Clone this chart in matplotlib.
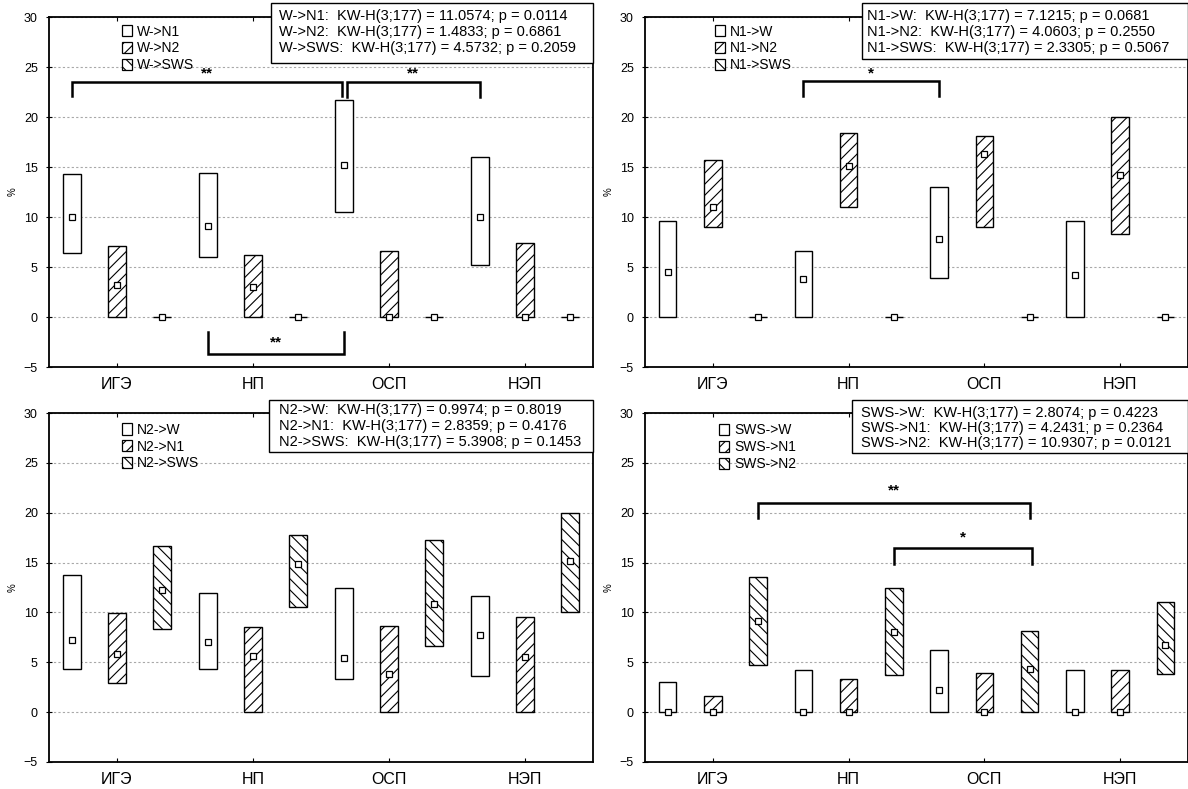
import matplotlib
matplotlib.use("Agg")
import matplotlib.pyplot as plt
from matplotlib.patches import Rectangle, Patch

plt.rcParams['font.family'] = ['Liberation Sans', 'DejaVu Sans']
plt.rcParams['hatch.linewidth'] = 0.8

categories = ['ИГЭ', 'НП', 'ОСП', 'НЭП']

# Panel 1: W->
w_names = ['W->N1', 'W->N2', 'W->SWS']
w_lo = [[6.4, 6.0, 10.5, 5.2], [0, 0, 0, 0], [0, 0, 0, 0]]
w_hi = [[14.3, 14.4, 21.7, 16.0], [7.1, 6.2, 6.6, 7.4], [0, 0, 0, 0]]
w_med = [[10.0, 9.1, 15.2, 10.0], [3.2, 3.0, 0, 0], [0, 0, 0, 0]]
w_stats = ['W->N1:  KW-H(3;177) = 11.0574; p = 0.0114',
           'W->N2:  KW-H(3;177) = 1.4833; p = 0.6861',
           'W->SWS:  KW-H(3;177) = 4.5732; p = 0.2059']

# Panel 2: N1->
n1_names = ['N1->W', 'N1->N2', 'N1->SWS']
n1_lo = [[0, 0, 3.9, 0], [9.0, 11.0, 9.0, 8.3], [0, 0, 0, 0]]
n1_hi = [[9.6, 6.6, 13.0, 9.6], [15.7, 18.4, 18.1, 20.0], [0, 0, 0, 0]]
n1_med = [[4.5, 3.8, 7.8, 4.2], [11.0, 15.1, 16.3, 14.2], [0, 0, 0, 0]]
n1_stats = ['N1->W:  KW-H(3;177) = 7.1215; p = 0.0681',
            'N1->N2:  KW-H(3;177) = 4.0603; p = 0.2550',
            'N1->SWS:  KW-H(3;177) = 2.3305; p = 0.5067']

# Panel 3: N2->
n2_names = ['N2->W', 'N2->N1', 'N2->SWS']
n2_lo = [[4.3, 4.3, 3.3, 3.6], [2.9, 0, 0, 0], [8.3, 10.5, 6.6, 10.0]]
n2_hi = [[13.8, 11.9, 12.5, 11.6], [9.9, 8.5, 8.6, 9.5], [16.7, 17.8, 17.3, 20.0]]
n2_med = [[7.2, 7.0, 5.4, 7.7], [5.8, 5.6, 3.8, 5.5], [12.2, 14.9, 10.8, 15.2]]
n2_stats = ['N2->W:  KW-H(3;177) = 0.9974; p = 0.8019',
            'N2->N1:  KW-H(3;177) = 2.8359; p = 0.4176',
            'N2->SWS:  KW-H(3;177) = 5.3908; p = 0.1453']

# Panel 4: SWS->
s_names = ['SWS->W', 'SWS->N1', 'SWS->N2']
s_lo = [[0, 0, 0, 0], [0, 0, 0, 0], [4.7, 3.7, 0, 3.8]]
s_hi = [[3.0, 4.2, 6.2, 4.2], [1.6, 3.3, 3.9, 4.2], [13.6, 12.5, 8.1, 11.0]]
s_med = [[0, 0, 2.2, 0], [0, 0, 0, 0], [9.1, 8.0, 4.3, 6.7]]
s_stats = ['SWS->W:  KW-H(3;177) = 2.8074; p = 0.4223',
           'SWS->N1:  KW-H(3;177) = 4.2431; p = 0.2364',
           'SWS->N2:  KW-H(3;177) = 10.9307; p = 0.0121']

W, H = 1188, 789
fig = plt.figure(figsize=(W / 100, H / 100), dpi=100)
fig.patch.set_facecolor('white')


def add_ax(left, top, width, bottom):
    return fig.add_axes([left / W, 1 - bottom / H, width / W, (bottom - top) / H])


hatches = ['', '///', '\\\\\\']
offsets = [-1 / 3, 0, 1 / 3]
bw = 0.13


def draw_panel(ax, names, lo, hi, med, stats, box, rows, textx, leg_xy):
    ax.set_xlim(-0.5, 3.5)
    ax.set_ylim(-5, 30)
    ax.set_yticks(range(-5, 31, 5))
    ax.set_xticks(range(4))
    ax.set_xticklabels(categories, fontsize=11.5)
    ax.tick_params(axis='y', labelsize=9, direction='inout', length=4, pad=6)
    ax.tick_params(axis='x', direction='in', length=3, top=True, pad=7)
    ax.yaxis.grid(True, color='#a8a8a8', linestyle=(0, (2, 2)), linewidth=0.8)
    ax.set_axisbelow(True)
    for sp in ax.spines.values():
        sp.set_linewidth(1.3)
    ax.set_ylabel('%', fontsize=7)
    ax.yaxis.set_label_coords(-0.058, 0.5)
    for k in range(3):
        xs = [i + offsets[k] for i in range(4)]
        heights = [h - l for h, l in zip(hi[k], lo[k])]
        ax.bar(xs, heights, bottom=lo[k], width=bw, facecolor='white',
               edgecolor='black', linewidth=1.0, hatch=hatches[k], zorder=3)
        ax.plot(xs, med[k], 's', markersize=4.2, mfc='white', mec='black',
                mew=0.9, zorder=4, linestyle='none')
    # stats box
    x0, y0, y1 = box
    ax.add_patch(Rectangle((x0, y0), 1.0 - x0, y1 - y0, transform=ax.transAxes,
                           facecolor='white', edgecolor='black', linewidth=1.0,
                           clip_on=False, zorder=6))
    for s, yy in zip(stats, rows):
        ax.text(textx, yy, s, transform=ax.transAxes, fontsize=10.5, ha='left',
                va='center', zorder=7, clip_on=False)
    handles = [Patch(facecolor='white', edgecolor='black', hatch=hatches[k], linewidth=0.9)
               for k in range(3)]
    ax.legend(handles, names, loc='upper left', bbox_to_anchor=leg_xy, frameon=False,
              fontsize=10, handlelength=0.75, handleheight=0.85, handletextpad=0.35,
              labelspacing=0.2, borderpad=0, borderaxespad=0)


def bracket(ax, x1, x2, ytop, yend, label, ylab):
    ax.plot([x1, x1, x2, x2], [yend, ytop, ytop, yend], color='black', lw=1.8,
            zorder=5, solid_joinstyle='miter')
    ax.text((x1 + x2) / 2, ylab, label, ha='center', va='center', fontsize=11,
            fontweight='bold', zorder=5)


ax1 = add_ax(49, 17, 544, 367)
draw_panel(ax1, w_names, w_lo, w_hi, w_med, w_stats,
           (0.408, 0.869, 1.040), [1.003, 0.956, 0.911], 0.422, (0.134, 0.978))
bracket(ax1, -1 / 3, 2 - 1 / 3 - 0.015, 23.5, 22.1, '**', 24.4)
bracket(ax1, 2 - 1 / 3 + 0.025, 3 - 1 / 3, 23.5, 22.0, '**', 24.4)
bracket(ax1, 1 - 1 / 3, 2 - 1 / 3, -3.7, -1.5, '**', -2.5)

ax2 = add_ax(645, 17, 543, 367)
draw_panel(ax2, n1_names, n1_lo, n1_hi, n1_med, n1_stats,
           (0.399, 0.880, 1.040), [1.003, 0.958, 0.912], 0.408, (0.128, 0.978))
bracket(ax2, 1 - 1 / 3, 2 - 1 / 3, 23.6, 22.1, '*', 24.4)

ax3 = add_ax(49, 413, 544, 762)
draw_panel(ax3, n2_names, n2_lo, n2_hi, n2_med, n2_stats,
           (0.405, 0.889, 1.037), [1.009, 0.964, 0.918], 0.422, (0.134, 0.972))
ax4 = add_ax(645, 413, 543, 762)
draw_panel(ax4, s_names, s_lo, s_hi, s_med, s_stats,
           (0.382, 0.885, 1.037), [0.999, 0.957, 0.914], 0.398, (0.136, 0.970))
bracket(ax4, 1 / 3, 2 + 1 / 3, 21.0, 19.5, '**', 22.2)
bracket(ax4, 1 + 1 / 3, 2 + 1 / 3 + 0.02, 16.5, 14.9, '*', 17.5)

fig.savefig('out.png', dpi=100, facecolor='white')
